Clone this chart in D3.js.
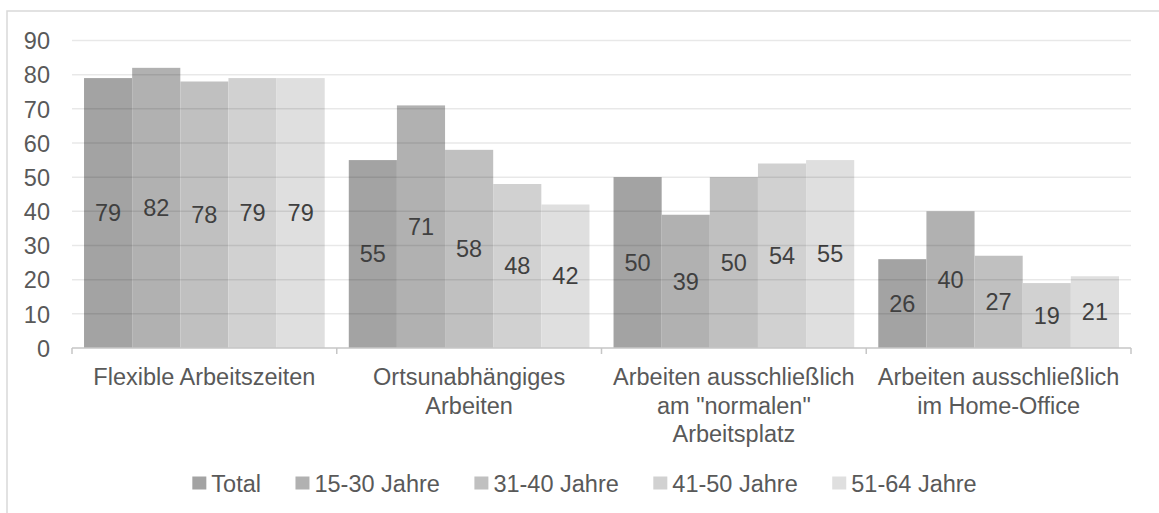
<!DOCTYPE html>
<html>
<head>
<meta charset="utf-8">
<script src="https://cdn.jsdelivr.net/npm/d3@7"></script>
<style>
  html, body { margin: 0; padding: 0; background: #fff; }
  svg { display: block; font-family: "Liberation Sans", Arial, sans-serif; }
</style>
</head>
<body>
<svg id="chart" width="1159" height="513"></svg>
<script>
// Categories (x axis groups)
const categories = [
  "Flexible Arbeitszeiten",
  "Ortsunabhängiges Arbeiten",
  "Arbeiten ausschließlich am \"normalen\" Arbeitsplatz",
  "Arbeiten ausschließlich im Home-Office"
];

// Series names (legend order)
const seriesNames = ["Total", "15-30 Jahre", "31-40 Jahre", "41-50 Jahre", "51-64 Jahre"];

// Values per series, in category order
const total    = [79, 55, 50, 26];
const age1530  = [82, 71, 39, 40];
const age3140  = [78, 58, 50, 27];
const age4150  = [79, 48, 54, 19];
const age5164  = [79, 42, 55, 21];

// Y axis ticks
const yTicks = [0, 10, 20, 30, 40, 50, 60, 70, 80, 90];

const seriesValues = [total, age1530, age3140, age4150, age5164];
const seriesColors = ["#a3a3a3", "#b1b1b1", "#c0c0c0", "#d1d1d1", "#dfdfdf"];

const svg = d3.select("#chart");
const W = 1159, H = 513;
const FONT = 23.5;

svg.append("rect").attr("width", W).attr("height", H).attr("fill", "#fff");

// outer chart frame
svg.append("rect")
  .attr("x", 7).attr("y", 11)
  .attr("width", W + 20).attr("height", H + 20)
  .attr("fill", "none")
  .attr("stroke", "#d9d9d9")
  .attr("stroke-width", 1.5);

const plot = { left: 72, right: 1131, top: 40.5, bottom: 348 };

const x0 = d3.scaleBand()
  .domain(categories)
  .range([plot.left, plot.right])
  .paddingInner(0.0909)
  .paddingOuter(0.04545);

const x1 = d3.scaleBand()
  .domain(seriesNames)
  .range([0, x0.bandwidth()]);

const y = d3.scaleLinear()
  .domain([0, 90])
  .range([plot.bottom, plot.top]);

// bars
const rows = categories.map((c, i) => ({
  cat: c,
  vals: seriesNames.map((s, j) => ({ series: s, value: seriesValues[j][i], color: seriesColors[j] }))
}));

const groups = svg.append("g").selectAll("g")
  .data(rows).join("g")
  .attr("transform", d => `translate(${x0(d.cat)},0)`);

groups.selectAll("rect")
  .data(d => d.vals).join("rect")
  .attr("x", d => x1(d.series))
  .attr("width", x1.bandwidth())
  .attr("y", d => y(d.value))
  .attr("height", d => y(0) - y(d.value))
  .attr("fill", d => d.color);

// horizontal gridlines, drawn translucent above the bars
svg.append("g").selectAll("line")
  .data(yTicks.filter(t => t > 0)).join("line")
  .attr("x1", plot.left).attr("x2", plot.right)
  .attr("y1", d => y(d)).attr("y2", d => y(d))
  .attr("stroke", "rgba(0,0,0,0.09)")
  .attr("stroke-width", 1.5);

// value labels centred in each bar
groups.selectAll("text")
  .data(d => d.vals).join("text")
  .attr("x", d => x1(d.series) + x1.bandwidth() / 2)
  .attr("y", d => (y(d.value) + y(0)) / 2)
  .attr("dy", "0.35em")
  .attr("text-anchor", "middle")
  .attr("font-size", FONT)
  .attr("fill", "#404040")
  .text(d => d.value);

// y axis labels
const yAxis = d3.axisLeft(y).tickValues(yTicks).tickSize(0).tickPadding(22);
const yg = svg.append("g").attr("transform", `translate(${plot.left},0)`).call(yAxis);
yg.select(".domain").remove();
yg.selectAll("text")
  .attr("font-size", FONT)
  .attr("font-family", "Liberation Sans, Arial, sans-serif")
  .attr("fill", "#595959")
  .attr("dy", "0.35em");

// x axis line with boundary ticks
const axisColor = "#c6c6c6";
svg.append("line")
  .attr("x1", plot.left).attr("x2", plot.right)
  .attr("y1", plot.bottom).attr("y2", plot.bottom)
  .attr("stroke", axisColor).attr("stroke-width", 1.5);

const step = x0.step();
const boundaries = d3.range(categories.length + 1).map(i => plot.left + i * step);
svg.append("g").selectAll("line")
  .data(boundaries).join("line")
  .attr("x1", d => d).attr("x2", d => d)
  .attr("y1", plot.bottom).attr("y2", plot.bottom + 6)
  .attr("stroke", axisColor).attr("stroke-width", 1.5);

// category labels, wrapped to the band width
const measure = svg.append("text").attr("font-size", FONT).attr("visibility", "hidden");
function wrapLines(str, maxW) {
  const words = str.split(" ");
  const lines = [];
  let cur = "";
  words.forEach(w => {
    const test = cur ? cur + " " + w : w;
    measure.text(test);
    if (measure.node().getComputedTextLength() > maxW && cur) {
      lines.push(cur);
      cur = w;
    } else {
      cur = test;
    }
  });
  if (cur) lines.push(cur);
  return lines;
}

const catG = svg.append("g");
categories.forEach((c, i) => {
  const cx = plot.left + (i + 0.5) * step;
  const t = catG.append("text")
    .attr("text-anchor", "middle")
    .attr("font-size", FONT)
    .attr("fill", "#595959");
  wrapLines(c, 258).forEach((line, k) => {
    t.append("tspan")
      .attr("x", cx)
      .attr("y", 385 + k * 28.5)
      .text(line);
  });
});
measure.remove();

// legend, centred below the plot
const legend = svg.append("g");
const items = seriesNames.map((s, j) => {
  const g = legend.append("g");
  g.append("rect")
    .attr("x", 0).attr("y", -7)
    .attr("width", 14).attr("height", 13)
    .attr("fill", seriesColors[j]);
  const txt = g.append("text")
    .attr("x", 19).attr("y", 0)
    .attr("dy", "0.35em")
    .attr("font-size", FONT)
    .attr("fill", "#595959")
    .text(s);
  return { g, w: 19 + txt.node().getComputedTextLength() };
});
const gap = 34.5;
const totalW = d3.sum(items, d => d.w) + gap * (items.length - 1);
let lx = 584.5 - totalW / 2;
items.forEach(it => {
  it.g.attr("transform", `translate(${lx},483.5)`);
  lx += it.w + gap;
});
</script>
</body>
</html>
